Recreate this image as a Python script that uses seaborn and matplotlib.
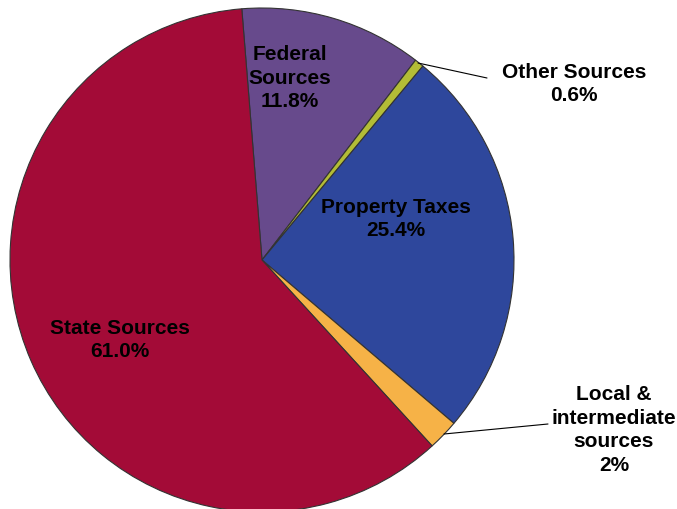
import matplotlib
matplotlib.use("Agg")
import matplotlib.pyplot as plt
import seaborn as sns

# ---------------- data ----------------
labels = ["Federal\nSources\n11.8%", "Other Sources\n0.6%", "Property Taxes\n25.4%",
          "Local &\nintermediate\nsources\n2%", "State Sources\n61.0%"]
shares = [11.8, 0.6, 25.4, 2.0, 61.0]
colors = ["#674A8C", "#B3BC36", "#2E479C", "#F6B247", "#A30B37"]

sns.set_theme(style="white")
plt.rcParams['font.family'] = ['Liberation Sans', 'DejaVu Sans']

W, H = 677, 509
fig = plt.figure(figsize=(W / 100, H / 100), dpi=100)
ax = fig.add_axes([0, 0, 1, 1])

cx, cy, r = 262, H - 260, 252
ax.pie(shares, colors=colors, startangle=94.6, counterclock=False,
       center=(cx, cy), radius=r,
       wedgeprops=dict(edgecolor="#333333", linewidth=0.8))

ax.set_xlim(0, W)
ax.set_ylim(0, H)
ax.set_aspect("equal")
ax.axis("off")

# label positions in pixel coords (y measured from top)
pos = [(290, 78), (574, 84), (396, 219), (614, 430), (120, 340)]
for lab, (x, y) in zip(labels, pos):
    ax.text(x, H - y, lab, ha="center", va="center", fontsize=15,
            fontweight="bold", color="black", linespacing=1.3)

# leader lines
ax.plot([418, 487], [H - 63, H - 78], color="black", lw=0.8)
ax.plot([444, 548], [H - 434, H - 424], color="black", lw=0.8)

fig.savefig("out.png", dpi=100)
